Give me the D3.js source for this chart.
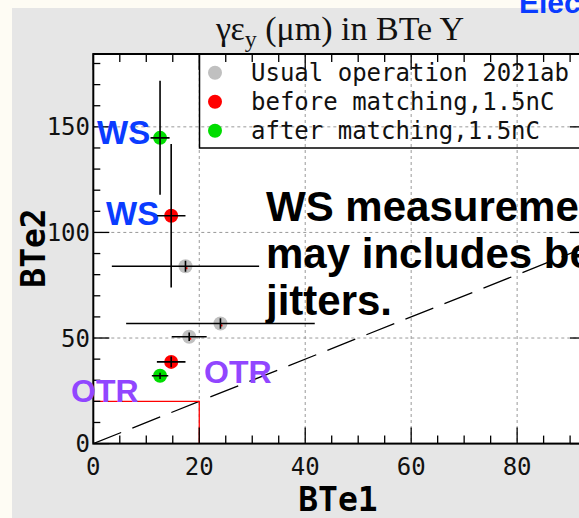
<!DOCTYPE html>
<html><head><meta charset="utf-8">
<script src="https://cdn.jsdelivr.net/npm/d3@7"></script>
<style>
html,body{margin:0;padding:0;background:#fefcf4;}
svg{display:block;}
</style></head>
<body>
<svg id="chart" width="579" height="518"></svg>
<script>
// ---- data ----
const seriesNames = ["Usual operation 2021ab", "before matching,1.5nC", "after matching,1.5nC"];
const seriesColors = ["#c0c0c0", "#ff0000", "#00dd00"];
const usualX  = [17.4, 24.0, 18.1];
const usualY  = [84.0, 56.9, 50.6];
const usualEX = [13.9, 17.8, 3.3];
const usualEY = [2.6, 2.5, 2.0];
const beforeX  = [14.7, 14.7];
const beforeY  = [107.9, 38.7];
const beforeEX = [2.7, 2.7];
const beforeEY = [34.0, 2.5];
const afterX  = [12.6, 12.6];
const afterY  = [144.8, 32.1];
const afterEX = [1.8, 1.55];
const afterEY = [27.0, 1.5];
const xMajorTicks = [0, 20, 40, 60, 80];
const yMajorTicks = [0, 50, 100, 150];
const xDomain = [0, 93];
const yDomain = [0, 184.5];
const diagonal = [[0, 0], [93, 93]];
const otrBox = [[0, 20], [20, 20], [20, 0]];
const titleMain = "γε", titleSub = "y", titleRest = " (μm) in BTe Y";
const xTitle = "BTe1", yTitle = "BTe2";
const noteLines = ["WS measurement", "may includes beam", "jitters."];

// ---- layout ----
const svg = d3.select("#chart");
const L = 93.3, R = 586, T = 54, B = 443.6;
const x = d3.scaleLinear().domain(xDomain).range([L, R]);
const y = d3.scaleLinear().domain(yDomain).range([B, T]);

// panel
svg.append("rect").attr("x", 12).attr("y", 8).attr("width", 579).attr("height", 520).attr("fill", "#e6e6e6");
svg.append("rect").attr("x", L).attr("y", T).attr("width", R - L).attr("height", B - T).attr("fill", "#ffffff");

svg.append("defs").append("clipPath").attr("id", "plotclip")
  .append("rect").attr("x", L).attr("y", T).attr("width", R - L).attr("height", B - T);
const plot = svg.append("g").attr("clip-path", "url(#plotclip)");

// grid
plot.append("g").selectAll("line").data(xMajorTicks.filter(d => d > 0)).join("line")
  .attr("x1", d => x(d)).attr("x2", d => x(d)).attr("y1", T).attr("y2", B)
  .attr("stroke", "#999").attr("stroke-width", 1).attr("stroke-dasharray", "3,3");
plot.append("g").selectAll("line").data(yMajorTicks.filter(d => d > 0)).join("line")
  .attr("y1", d => y(d)).attr("y2", d => y(d)).attr("x1", L).attr("x2", R)
  .attr("stroke", "#999").attr("stroke-width", 1).attr("stroke-dasharray", "3,3");

// diagonal y=x
plot.append("path").attr("d", d3.line().x(d => x(d[0])).y(d => y(d[1]))(diagonal))
  .attr("stroke", "#000").attr("stroke-width", 1.3).attr("fill", "none").attr("stroke-dasharray", "30,12");

// red box
plot.append("path").attr("d", d3.line().x(d => x(d[0])).y(d => y(d[1]))(otrBox))
  .attr("stroke", "#ff0000").attr("stroke-width", 1.3).attr("fill", "none");

// data
const groups = [
  {X: usualX, Y: usualY, EX: usualEX, EY: usualEY, c: seriesColors[0], dot: true},
  {X: beforeX, Y: beforeY, EX: beforeEX, EY: beforeEY, c: seriesColors[1]},
  {X: afterX, Y: afterY, EX: afterEX, EY: afterEY, c: seriesColors[2]}
];
groups.forEach(g => {
  const pts = g.X.map((v, i) => ({x: v, y: g.Y[i], ex: g.EX[i], ey: g.EY[i]}));
  plot.append("g").selectAll("circle").data(pts).join("circle")
    .attr("cx", d => x(d.x)).attr("cy", d => y(d.y)).attr("r", 7).attr("fill", g.c);
  if (g.dot) {
    plot.append("g").selectAll("rect").data(pts).join("rect")
      .attr("x", d => x(d.x)).attr("y", d => y(d.y) + 1).attr("width", 2).attr("height", 2).attr("fill", "#ff0000");
  }
  const eb = plot.append("g").attr("stroke", "#000").attr("stroke-width", 1.6);
  eb.selectAll("line.h").data(pts).join("line").attr("class", "h")
    .attr("x1", d => x(d.x - d.ex)).attr("x2", d => x(d.x + d.ex))
    .attr("y1", d => y(d.y)).attr("y2", d => y(d.y));
  eb.selectAll("line.v").data(pts).join("line").attr("class", "v")
    .attr("x1", d => x(d.x)).attr("x2", d => x(d.x))
    .attr("y1", d => y(d.y - d.ey)).attr("y2", d => y(d.y + d.ey));
});

// axes (ROOT-style inward ticks)
const minorX = d3.range(0, xDomain[1] + 0.01, 5);
const minorY = d3.range(0, yDomain[1], 10);
const tk = svg.append("g").attr("stroke", "#000").attr("stroke-width", 1.3);
minorX.forEach(v => {
  const len = xMajorTicks.includes(v) ? 16 : 8;
  tk.append("line").attr("x1", x(v)).attr("x2", x(v)).attr("y1", B).attr("y2", B - len);
  tk.append("line").attr("x1", x(v)).attr("x2", x(v)).attr("y1", T).attr("y2", T + len);
});
minorY.forEach(v => {
  const len = yMajorTicks.includes(v) ? 16 : 7;
  tk.append("line").attr("y1", y(v)).attr("y2", y(v)).attr("x1", L).attr("x2", L + len);
  tk.append("line").attr("y1", y(v)).attr("y2", y(v)).attr("x1", R).attr("x2", R - len);
});
svg.append("rect").attr("x", L).attr("y", T).attr("width", R - L).attr("height", B - T)
  .attr("fill", "none").attr("stroke", "#000").attr("stroke-width", 2);

const mono = "'DejaVu Sans Mono', monospace";
svg.append("g").selectAll("text").data(xMajorTicks).join("text")
  .attr("x", d => x(d)).attr("y", 475).attr("text-anchor", "middle")
  .attr("font-family", mono).attr("font-size", 24).attr("fill", "#111").text(d => d);
svg.append("g").selectAll("text").data(yMajorTicks).join("text")
  .attr("x", 90).attr("y", d => y(d) + 8.5).attr("text-anchor", "end")
  .attr("font-family", mono).attr("font-size", 24).attr("fill", "#111").text(d => d);

svg.append("text").attr("x", 338).attr("y", 511).attr("text-anchor", "middle")
  .attr("font-family", mono).attr("font-weight", "bold").attr("font-size", 33).text(xTitle);
svg.append("text").attr("transform", "translate(45,248) rotate(-90)").attr("text-anchor", "middle")
  .attr("font-family", mono).attr("font-weight", "bold").attr("font-size", 33).text(yTitle);

// title
const tt = svg.append("text").attr("x", 340).attr("y", 40).attr("text-anchor", "middle")
  .attr("font-family", "'Liberation Serif', 'Times New Roman', serif").attr("font-size", 34).attr("fill", "#111");
tt.append("tspan").text(titleMain);
tt.append("tspan").attr("dy", 7).attr("font-size", 24).text(titleSub);
tt.append("tspan").attr("dy", -7).text(titleRest);

// legend
svg.append("rect").attr("x", 199.5).attr("y", T).attr("width", 420).attr("height", 94)
  .attr("fill", "none").attr("stroke", "#000").attr("stroke-width", 1.5);
const legY = [72.7, 101.7, 130.7];
const lg = svg.append("g").selectAll("g").data(seriesNames).join("g");
lg.append("circle").attr("cx", 215).attr("cy", (d, i) => legY[i]).attr("r", 7).attr("fill", (d, i) => seriesColors[i]);
lg.append("text").attr("x", 251).attr("y", (d, i) => legY[i] + 8)
  .attr("font-family", mono).attr("font-size", 24).attr("fill", "#111").text(d => d);

// annotations
const sans = "'Liberation Sans', Arial, sans-serif";
const ann = [
  {t: "WS", x: 97, y: 144, c: "#0a3cff", s: 33},
  {t: "WS", x: 106, y: 225, c: "#0a3cff", s: 33},
  {t: "OTR", x: 71, y: 402, c: "#9146ff", s: 32},
  {t: "OTR", x: 204, y: 383, c: "#9146ff", s: 32},
  {t: "Elec", x: 519, y: 13, c: "#0a3cff", s: 30}
];
svg.append("g").selectAll("text").data(ann).join("text")
  .attr("x", d => d.x).attr("y", d => d.y).attr("fill", d => d.c)
  .attr("font-family", sans).attr("font-weight", "bold").attr("font-size", d => d.s).text(d => d.t);
svg.append("g").selectAll("text").data(noteLines).join("text")
  .attr("x", 266).attr("y", (d, i) => 221 + i * 47)
  .attr("font-family", sans).attr("font-weight", "bold").attr("font-size", 42).attr("fill", "#000").text(d => d);
</script>
</body></html>
